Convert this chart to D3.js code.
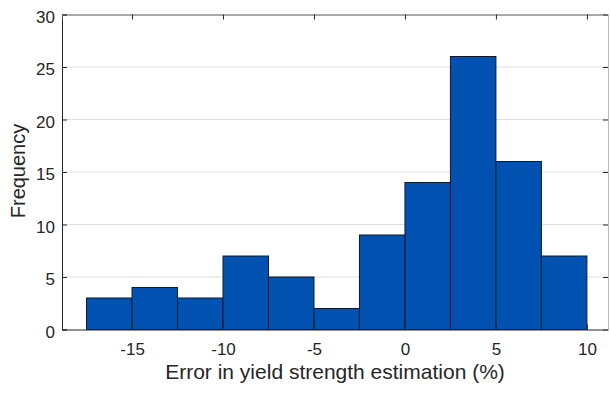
<!DOCTYPE html>
<html>
<head>
<meta charset="utf-8">
<script src="https://cdn.jsdelivr.net/npm/d3@7"></script>
<style>
  body { margin: 0; background: #fff; }
  text { font-family: "Liberation Sans", Arial, sans-serif; fill: #262626; }
</style>
</head>
<body>
<svg width="610" height="393"></svg>
<script>
// Histogram data
var binEdges = [-17.5, -15, -12.5, -10, -7.5, -5, -2.5, 0, 2.5, 5, 7.5, 10];
var counts = [3, 4, 3, 7, 5, 2, 9, 14, 26, 16, 7];
var xTicks = [-15, -10, -5, 0, 5, 10];
var yTicks = [0, 5, 10, 15, 20, 25, 30];

var svg = d3.select("svg");
var plotL = 62, plotR = 608, plotT = 14.5, plotB = 329.5;

var x = d3.scaleLinear().domain([-18.85, 11.16]).range([plotL, plotR]);
var y = d3.scaleLinear().domain([0, 30]).range([plotB, plotT]);

// grid
svg.append("g")
  .selectAll("line")
  .data(yTicks.slice(1, -1))
  .enter()
  .append("line")
    .attr("x1", plotL).attr("x2", plotR)
    .attr("y1", function(d){ return y(d) })
    .attr("y2", function(d){ return y(d) })
    .attr("stroke", "#dfdfdf")
    .attr("stroke-width", 1);

// bars
var bins = counts.map(function(c, i){ return {x0: binEdges[i], x1: binEdges[i+1], n: c} });
svg.append("g")
  .selectAll("rect")
  .data(bins)
  .enter()
  .append("rect")
    .attr("x", function(d){ return x(d.x0) })
    .attr("width", function(d){ return x(d.x1) - x(d.x0) })
    .attr("y", function(d){ return y(d.n) })
    .attr("height", function(d){ return y(0) - y(d.n) })
    .attr("fill", "#0051b0")
    .attr("stroke", "#0a1a33")
    .attr("stroke-width", 1);

var fmt = function(d){ return String(d) };

// axes
var xAxis = svg.append("g")
  .attr("transform", "translate(0," + plotB + ")")
  .call(d3.axisBottom(x).tickValues(xTicks).tickSize(-5).tickPadding(13).tickFormat(fmt));
var yAxis = svg.append("g")
  .attr("transform", "translate(" + plotL + ",0)")
  .call(d3.axisLeft(y).tickValues(yTicks).tickSize(-5).tickPadding(7).tickFormat(fmt));
var xTop = svg.append("g")
  .attr("transform", "translate(0," + plotT + ")")
  .call(d3.axisTop(x).tickValues(xTicks).tickSize(-5).tickFormat(""));
var yRight = svg.append("g")
  .attr("transform", "translate(" + plotR + ",0)")
  .call(d3.axisRight(y).tickValues(yTicks).tickSize(-5).tickFormat(""));

[xAxis, yAxis, xTop, yRight].forEach(function(g){
  g.select(".domain").attr("stroke", "#262626").attr("stroke-width", 1);
  g.selectAll(".tick line").attr("stroke", "#262626");
  g.selectAll(".tick text").style("font-size", "17px").attr("fill", "#262626");
});
yAxis.selectAll(".tick text").attr("dy", "0.45em");
xTop.select(".domain").attr("stroke", "#555");
yRight.select(".domain").attr("stroke", "#bbb");

// labels
svg.append("text")
  .attr("x", (plotL + plotR) / 2).attr("y", 379)
  .attr("text-anchor", "middle")
  .style("font-size", "21px")
  .text("Error in yield strength estimation (%)");

svg.append("text")
  .attr("transform", "translate(25,171) rotate(-90)")
  .attr("text-anchor", "middle")
  .style("font-size", "20px")
  .text("Frequency");
</script>
</body>
</html>
